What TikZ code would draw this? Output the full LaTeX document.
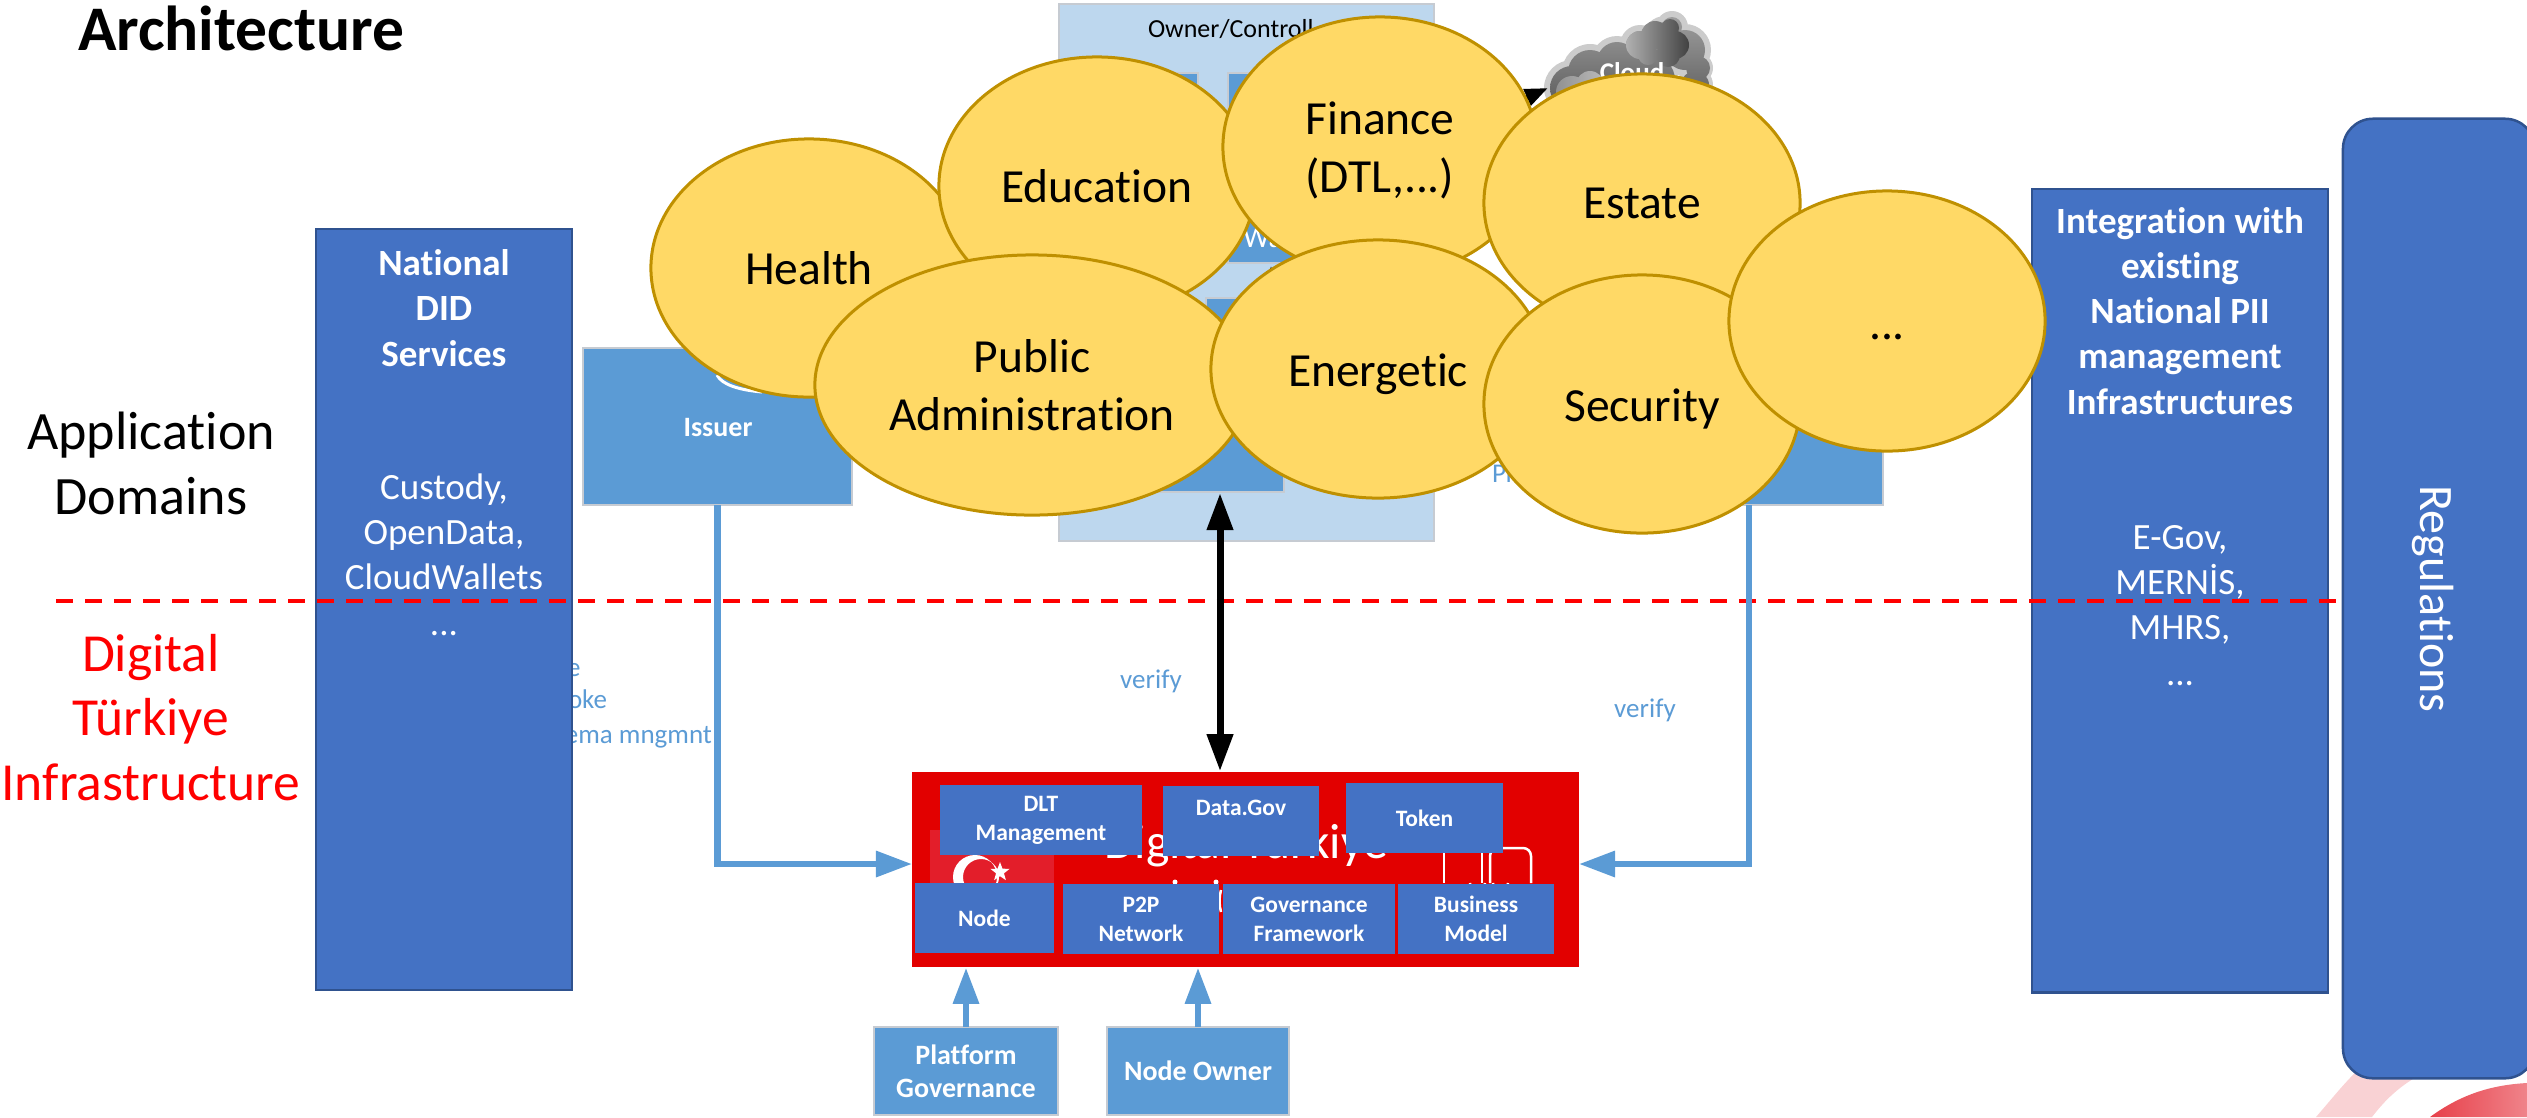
\documentclass[tikz,border=0pt]{standalone}
\usepackage{fontspec}
\setmainfont[Ligatures=NoCommon]{Carlito}
\usetikzlibrary{arrows.meta,calc,shapes.geometric}
\definecolor{midblue}{HTML}{5B9BD5}
\definecolor{deepblue}{HTML}{4472C4}
\definecolor{edgeblue}{HTML}{2F528F}
\definecolor{paleblue}{HTML}{BDD7EE}
\definecolor{paleedge}{HTML}{C6CBD2}
\definecolor{ellfill}{HTML}{FFD966}
\definecolor{elledge}{HTML}{BF9000}
\definecolor{dtred}{HTML}{E20000}
\definecolor{flagred}{HTML}{E31E2A}
\newcommand{\pxf}[1]{\fontsize{\fpeval{#1*0.2845}pt}{\fpeval{#1*0.2845*1.2}pt}\selectfont}
\newcommand{\pxl}[2]{\fontsize{\fpeval{#1*0.2845}pt}{\fpeval{#2*0.2845}pt}\selectfont}
\tikzset{
  px/.style={x=0.01cm,y=-0.01cm},
  txt/.style={inner sep=0pt,outer sep=0pt,align=center},
  actorbox/.style={rectangle,fill=midblue,draw=paleedge,line width=0.2mm,inner sep=0pt,outer sep=0pt,text=white,align=center,font=\bfseries\pxl{28}{33}},
  bigbox/.style={rectangle,fill=deepblue,draw=edgeblue,line width=0.25mm,inner sep=0pt,outer sep=0pt},
  modbox/.style={rectangle,fill=deepblue,inner sep=0pt,outer sep=0pt,text=white,align=center,font=\bfseries\pxl{23.5}{29}},
  domainell/.style={ellipse,fill=ellfill,draw=elledge,line width=0.3mm,inner sep=0pt,outer sep=0pt,align=center,font=\pxl{47.5}{58},text=black},
  domainlab/.style={txt,font=\pxl{47.5}{58},text=black},
  bluearrow/.style={draw=midblue,line width=0.62mm,-{Triangle[length=3.6mm,width=2.5mm]}},
  blackarrow/.style={draw=black,line width=0.7mm,{Triangle[length=3.7mm,width=2.5mm]}-{Triangle[length=3.7mm,width=2.5mm]}},
  captxt/.style={txt,text=midblue,font=\pxl{27}{34}},
}
\begin{document}
\begin{tikzpicture}[px]
\useasboundingbox (0,0) rectangle (2527,1117);
\clip (0,0) rectangle (2527,1117);

% decorative corner
\fill[color=flagred!20] (2316,1117) .. controls (2335,1095) and (2345,1082) .. (2362,1066) -- (2425,1072) .. controls (2400,1085) and (2385,1100) .. (2372,1117) -- cycle;
\shade[left color=flagred!85,right color=flagred!55] (2430,1117) .. controls (2460,1095) and (2490,1085) .. (2527,1083) -- (2527,1117) -- cycle;

\node[txt,font=\bfseries\pxf{63.5},anchor=base west] (title) at (78,50) {Architecture};
\node[txt,font=\pxl{54}{64},anchor=base] (applab) at (151,514) {Application\\Domains};
\node[txt,font=\pxl{53.5}{64},text=red,anchor=base] (dtlab) at (151,800) {Digital\\Türkiye\\Infrastructure};

% owner box
\node[rectangle,fill=paleblue,draw=paleedge,line width=0.2mm,minimum width=3.75cm,minimum height=5.37cm,inner sep=0pt] (owner) at (1246.5,272.5) {};
\node[txt,font=\pxf{26},anchor=base west] (ownerlab) at (1148,37) {Owner/Controll};
\node[actorbox,minimum width=1cm,minimum height=1.4cm] (boxa) at (1148,143) {};
\node[actorbox,minimum width=1.42cm,minimum height=1.9cm] (wallet) at (1299,168) {};
\node[txt,text=white,font=\pxf{30},anchor=base west] (walab) at (1243,247) {Wa};
\node[actorbox,minimum width=0.78cm,minimum height=1.94cm] (holdertop) at (1245,395) {};
\node[actorbox,minimum width=1.34cm,minimum height=0.7cm] (holder) at (1217,457) {};
\fill[midblue] (1207,299) rectangle (1283,491);
\coordinate (tick) at (1271,266);
\draw[black,line width=0.3mm,-{Triangle[length=1.6mm,width=1mm]}] (holdertop.north -| tick) -- (tick);

% issuer
\node[actorbox,minimum width=2.69cm,minimum height=1.57cm] (issuer) at (717.5,426.5) {};
\node[txt,text=white,font=\bfseries\pxf{28}] (issuerlab) at (718,428) {Issuer};
\coordinate (arcstart) at (717,375);
\draw[white,line width=0.3mm] (arcstart) .. controls (722,385) and (740,390) .. (762,392);

% verifier
\node[actorbox,minimum width=2.68cm,minimum height=1.57cm] (verifier) at (1749,426.5) {};
\node[txt,text=midblue,font=\pxf{27},anchor=base west] (plab) at (1492,482) {Pr};

% captions
\node[captxt,anchor=base west] (capa) at (567,676) {e};
\node[captxt,anchor=base west] (capb) at (568,708) {oke};
\node[captxt,anchor=base east] (capc) at (712,743) {ema mngmnt};
\node[captxt,anchor=center] (vera) at (1151,681) {verify};
\node[captxt,anchor=center] (verb) at (1645,710) {verify};

% dashed line
\coordinate (dashstart) at (56,601);
\coordinate (dashend) at (2345,601);

% big side boxes
\node[bigbox,minimum width=2.56cm,minimum height=7.61cm] (national) at (444,609.5) {};
\node[bigbox,minimum width=2.96cm,minimum height=8.03cm] (integration) at (2180,590.5) {};

\node[txt,text=white,font=\bfseries\pxl{37}{45},anchor=base] (natlab) at (444,366) {National\\DID\\Services};
\node[txt,text=white,font=\pxl{37}{45},anchor=base] (natsub) at (444,635) {Custody,\\OpenData,\\CloudWallets\\...};
\node[txt,text=white,font=\bfseries\pxl{37}{45},anchor=base] (intlab) at (2180,414) {Integration with\\existing\\National PII\\management\\Infrastructures};
\node[txt,text=white,font=\pxl{37}{45},anchor=base] (intsub) at (2180,685) {E-Gov,\\MERNİS,\\MHRS,\\...};

\draw[red,line width=0.45mm,dash pattern=on 1.7mm off 1.2mm] (dashstart) -- (dashend);

\node[rectangle,fill=deepblue,draw=edgeblue,line width=0.25mm,rounded corners=3mm,minimum width=1.92cm,minimum height=9.59cm,inner sep=0pt] (regs) at (2439,598.5) {};
\node[txt,text=white,font=\pxf{48},rotate=-90] (regslab) at (2433,599) {Regulations};

% digital turkiye box
\node[rectangle,fill=dtred,inner sep=0pt,minimum width=6.67cm,minimum height=1.95cm] (dt) at (1245.5,869.5) {};
\node[rectangle,fill=flagred,inner sep=0pt,minimum width=1.24cm,minimum height=0.6cm] (flag) at (992,860) {};
\fill[white,even odd rule] (975,877) circle[radius=22] (981,877) circle[radius=18];
\node[star,star points=5,star point ratio=2.4,fill=white,inner sep=0pt,minimum size=0.2cm] (flagstar) at (1000,872) {};
\node[txt,text=white,font=\pxf{49.5},anchor=base] (dtname) at (1246,858) {Digital Türkiye};
\draw[white,line width=0.25mm,rounded corners=0.08cm] (1444,853) -- (1444,883);
\draw[white,line width=0.25mm,rounded corners=0.08cm] (1490,883) -- (1490,848) -- (1531,848) -- (1531,883);
\draw[white,line width=0.25mm] (1470,883) arc[start angle=180,end angle=0,radius=7.5];
\draw[white,line width=0.25mm] (1493,883) arc[start angle=180,end angle=0,radius=7.5];
\draw[white,line width=0.25mm] (1482,853) -- (1482,883);
\fill[white] (1175,882) circle[radius=2.5] (1216,882) circle[radius=2.5];
\draw[white,line width=0.25mm] (1221,890) .. controls (1219,897) and (1219,905) .. (1221,912);

\node[modbox,minimum width=2.02cm,minimum height=0.7cm] (dlt) at (1041,820) {DLT\\Management};
\node[modbox,minimum width=1.565cm,minimum height=0.7cm] (datagov) at (1241,821) {};
\node[txt,text=white,font=\bfseries\pxf{23.5}] (datagovlab) at (1241,808) {Data.Gov};
\node[modbox,minimum width=1.57cm,minimum height=0.7cm] (token) at (1424.5,818) {Token};
\node[modbox,minimum width=1.39cm,minimum height=0.7cm] (nodebox) at (984.5,918) {Node};
\node[modbox,minimum width=1.56cm,minimum height=0.7cm] (p2p) at (1141,919) {P2P\\Network};
\node[modbox,minimum width=1.72cm,minimum height=0.7cm] (gov) at (1309,919) {Governance\\Framework};
\node[modbox,minimum width=1.56cm,minimum height=0.7cm] (biz) at (1476,919) {Business\\Model};

\node[actorbox,minimum width=1.835cm,minimum height=0.88cm] (plat) at (966,1071) {Platform\\Governance};
\node[actorbox,minimum width=1.825cm,minimum height=0.88cm] (owner2) at (1198,1071) {Node Owner};

% connectors
\coordinate (inleft) at (912,864);
\coordinate (inright) at (1579,864);
\coordinate (blacktop) at (1220,493);
\draw[bluearrow] (issuer.south) |- (inleft);
\draw[bluearrow] (verifier.south) |- (inright);
\draw[bluearrow] (plat.north) -- (plat.north |- dt.south);
\draw[bluearrow] (owner2.north) -- (owner2.north |- dt.south);
\draw[blackarrow] (blacktop) -- (blacktop |- dt.north);

% cloud
\fill[black!20] (1572,88) circle[radius=28] (1590,72) circle[radius=28] (1617,62) circle[radius=26] (1640,45) circle[radius=20] (1665,38) circle[radius=22] (1672,27) circle[radius=16] (1685,50) circle[radius=26] (1698,68) circle[radius=15] (1695,85) circle[radius=18] (1650,80) circle[radius=28];
\begin{scope}
\clip (1572,88) circle[radius=22] (1590,72) circle[radius=22] (1617,62) circle[radius=20] (1640,45) circle[radius=14] (1665,38) circle[radius=16] (1672,27) circle[radius=10] (1685,50) circle[radius=20] (1698,68) circle[radius=12] (1695,85) circle[radius=14] (1650,80) circle[radius=25];
\shade[top color=black!35,bottom color=black!65] (1540,5) rectangle (1720,110);
\end{scope}
\begin{scope}
\clip (1572,92) circle[radius=16] (1590,85) circle[radius=14];
\shade[left color=black!45,right color=black!25] (1550,70) rectangle (1610,110);
\end{scope}
\begin{scope}
\clip (1640,45) circle[radius=14] (1655,35) circle[radius=14] (1670,28) circle[radius=9] (1675,45) circle[radius=14] (1668,55) circle[radius=12] (1648,55) circle[radius=10];
\shade[left color=black!30,right color=black!75] (1625,15) rectangle (1690,70);
\end{scope}
\node[txt,text=white,font=\bfseries\pxf{27},anchor=base] (cloudlab) at (1632,81) {Cloud};
\coordinate (cloudtip) at (1548,88);
\draw[black,line width=0.5mm,-{Triangle[length=2.3mm,width=1.7mm]}] (wallet.east) -- (cloudtip);

% domains
\node[domainell,minimum width=3.16cm,minimum height=2.58cm] (health) at (809,268) {Health};
\node[domainell,minimum width=3.16cm,minimum height=2.58cm] (education) at (1097,186) {Education};
\node[domainell,minimum width=3.14cm,minimum height=2.6cm] (finance) at (1380,147) {};
\node[domainell,minimum width=3.16cm,minimum height=2.58cm] (estate) at (1642,203) {Estate};
\node[domainell,minimum width=4.34cm,minimum height=2.6cm] (public) at (1032,385) {Public\\Administration};
\node[domainell,minimum width=3.34cm,minimum height=2.58cm] (energetic) at (1378,369) {};
\node[domainell,minimum width=3.16cm,minimum height=2.58cm] (security) at (1642,404) {};
\node[domainell,minimum width=3.16cm,minimum height=2.6cm] (more) at (1887,321) {};
\node[domainlab] (financelab) at (1380,150) {Finance\\(DTL,...)};
\node[domainlab] (energeticlab) at (1378,374) {Energetic};
\node[domainlab] (securitylab) at (1642,409) {Security};
\node[domainlab] (morelab) at (1887,337) {...};
\end{tikzpicture}
\end{document}
